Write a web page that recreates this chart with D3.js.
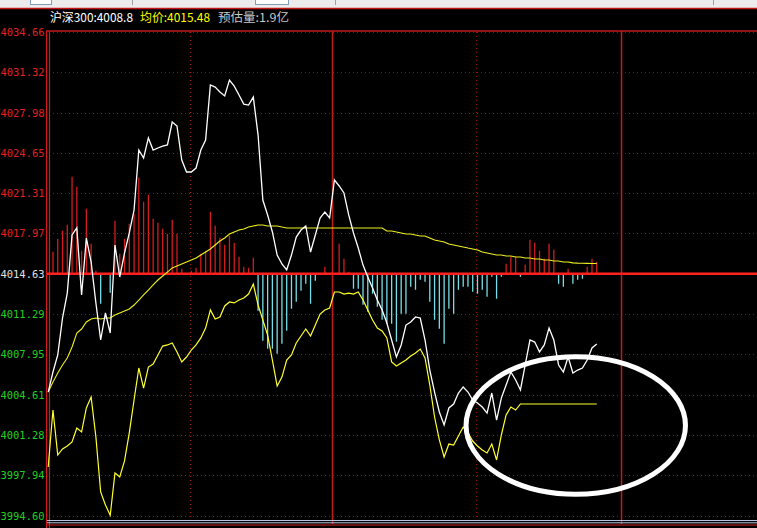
<!DOCTYPE html>
<html><head><meta charset="utf-8">
<script src="https://cdn.jsdelivr.net/npm/d3@7"></script>
<style>html,body{margin:0;padding:0;background:#000;overflow:hidden}svg{display:block}</style>
</head><body>
<svg id="c" width="757" height="528"></svg>
<script>
// ---- data ----
const priceTicks = [4034.66,4031.32,4027.98,4024.65,4021.31,4017.97,4014.63,4011.29,4007.95,4004.61,4001.28,3997.94,3994.60];
const tickLabels = ["4034.66","4031.32","4027.98","4024.65","4021.31","4017.97","4014.63","4011.29","4007.95","4004.61","4001.28","3997.94","3994.60"];
const basePrice = 4014.63;
// vertical grid positions (minute index; solid = hour lines)
const timeTicks = [{i:29.75, solid:false}, {i:59.5, solid:true}, {i:89.75, solid:false}, {i:120, solid:true}];
const timeTickLabels = [{i:0, t:"06/10 09:30"}, {i:59.5, t:"10:30"}, {i:120, t:"11:30"}];

// 沪深300 price, one value per minute
const price = [4004.83,4006.49,4007.90,4010.96,4013.03,4017.84,4018.42,4012.87,4017.59,4015.60,
4012.21,4009.14,4011.38,4009.72,4017.01,4014.36,4016.35,4018.01,4019.91,4024.88,
4024.22,4025.88,4024.88,4025.05,4025.21,4025.30,4027.20,4026.87,4024.05,4023.06,
4023.06,4023.39,4024.88,4025.71,4030.27,4030.10,4029.69,4029.36,4030.68,4030.18,
4029.44,4028.69,4028.61,4029.27,4026.12,4020.74,4019.50,4018.09,4016.18,4015.44,
4014.94,4016.18,4017.67,4018.25,4018.59,4016.43,4017.84,4019.25,4019.74,4019.25,
4022.40,4021.90,4021.32,4019.50,4018.01,4016.76,4015.35,4014.36,4013.45,4012.45,
4011.63,4010.55,4009.14,4007.73,4008.73,4010.38,4010.63,4011.05,4010.96,4009.14,
4006.65,4004.83,4003.18,4002.10,4003.51,4003.84,4004.75,4005.25,4004.83,4004.17,
4003.92,4003.59,4003.09,4004.75,4002.51,4004.33,4005.41,4006.49,4005.83,4005.00,
4007.07,4009.14,4008.97,4008.15,4008.73,4010.13,4009.14,4007.07,4006.49,4007.73,
4006.41,4006.65,4006.82,4007.48,4008.48,4008.80];

// 均价 average price
const avgPrice = [4004.83,4005.66,4006.41,4007.07,4007.65,4008.56,4009.72,4010.05,4010.63,4010.88,
4010.96,4010.88,4010.96,4010.96,4011.21,4011.38,4011.54,4011.71,4012.04,4012.45,
4012.87,4013.28,4013.70,4014.11,4014.44,4014.77,4015.11,4015.27,4015.44,4015.60,
4015.77,4015.93,4016.18,4016.43,4016.68,4017.01,4017.34,4017.59,4017.92,4018.09,
4018.25,4018.34,4018.50,4018.59,4018.67,4018.67,4018.59,4018.59,4018.59,4018.50,
4018.42,4018.42,4018.42,4018.42,4018.42,4018.42,4018.42,4018.42,4018.42,4018.42,
4018.42,4018.42,4018.42,4018.42,4018.42,4018.42,4018.42,4018.42,4018.42,4018.42,
4018.42,4018.17,4018.17,4018.09,4018.01,4017.92,4017.92,4017.84,4017.76,4017.76,
4017.59,4017.43,4017.34,4017.26,4017.09,4017.01,4016.93,4016.85,4016.76,4016.68,
4016.60,4016.43,4016.35,4016.27,4016.18,4016.18,4016.10,4016.10,4016.02,4016.02,
4015.93,4015.93,4015.85,4015.85,4015.77,4015.77,4015.69,4015.69,4015.60,4015.60,
4015.53,4015.51,4015.50,4015.49,4015.48,4015.48];

// leading line (yellow, jagged)
const lead = [3998.62,4003.34,3999.61,4000.11,4000.36,4000.69,4001.85,4001.52,4003.51,4004.42,
4001.10,3996.55,3995.47,3994.62,3998.12,3997.79,3999.12,4001.44,4004.17,4006.82,
4005.16,4006.90,4007.15,4007.90,4008.64,4008.73,4008.89,4008.15,4007.32,4007.73,
4008.31,4008.73,4009.31,4010.13,4011.63,4010.88,4011.05,4011.96,4012.29,4012.21,
4012.45,4012.62,4012.95,4013.78,4012.04,4010.80,4009.55,4007.48,4005.33,4006.07,
4007.48,4007.90,4008.89,4009.47,4010.05,4009.47,4010.38,4011.29,4011.63,4011.79,
4013.12,4013.12,4012.95,4013.03,4012.95,4013.12,4012.45,4011.63,4010.80,4010.13,
4009.89,4009.31,4007.32,4006.99,4007.23,4007.48,4007.81,4008.06,4008.39,4007.65,
4005.41,4002.76,4000.86,3999.45,4000.52,4000.44,4001.19,4001.93,4001.44,4000.77,
4000.36,4000.03,3999.78,4000.52,3999.20,4001.27,4002.93,4003.59,4003.34,4003.84,
4003.84,4003.84,4003.84,4003.84,4003.84,4003.84,4003.84,4003.84,4003.84,4003.84,
4003.84,4003.84,4003.84,4003.84,4003.84,4003.84];

// red / green strength bars
const strength = [0,22,35,43,49,97,87,23,65,30,
3,-30,0,-19,53,20,35,50,60,96,
72,79,55,51,45,40,54,40,5,0,
3,6,20,23,62,48,36,29,38,31,
17,7,6,16,-37,-67,-75,-75,-80,-70,
-57,-35,-28,-17,-10,-30,-7,0,7,0,
0,30,15,2,-15,-15,-31,-38,-20,-33,
-46,-50,-50,-68,-40,-40,-13,-16,-6,-8,
-28,-46,-55,-70,-35,-40,-16,-13,-13,-18,
-20,-16,-23,-3,-25,-3,10,17,17,-3,
9,34,31,23,15,30,24,-10,-13,5,
-10,-6,-5,7,15,12];

// hand-drawn ellipse annotation (data units)
const annot = {i:110.6, v:4002.06, di:23.0, dv:5.7};

// ---- drawing ----
const svg = d3.select("#c");
const W = 757, H = 528;
const x = d3.scaleLinear().domain([0, 240]).range([48.2, 48.2 + 240*4.77]);
const y = d3.scaleLinear().domain([3994.60, 4034.66]).range([515.5, 32]);
const y0 = y(basePrice);
const bar = d3.scaleLinear().domain([-100, 100]).range([y0 + 100, y0 - 100]);

svg.append("rect").attr("width", W).attr("height", H).attr("fill", "#000");

// top toolbar strip
svg.append("rect").attr("x",0).attr("y",0).attr("width",W).attr("height",8).attr("fill","#ececec");
svg.append("rect").attr("x",30.5).attr("y",-1).attr("width",21).attr("height",5.5).attr("fill","#fff").attr("stroke","#7f9db9");
svg.append("rect").attr("x",255.5).attr("y",-1).attr("width",33).attr("height",5.5).attr("fill","#fff").attr("stroke","#7f9db9");
[132, 335, 713].forEach(px => svg.append("line").attr("x1",px+.5).attr("x2",px+.5).attr("y1",0).attr("y2",5).attr("stroke","#a0a0a0"));
svg.append("line").attr("x1",0).attr("x2",W).attr("y1",8.5).attr("y2",8.5).attr("stroke","#c01818").attr("stroke-width",1.5);

// header text
const header = [
  {t:"沪深300:" + d3.format(".1f")(price[price.length-1]), x:50, w:83, c:"#ffffff"},
  {t:"均价:" + d3.format(".2f")(avgPrice[avgPrice.length-1]), x:140, w:70, c:"#ffff00"},
  {t:"预估量:1.9亿", x:218, w:71, c:"#c8c8c8"}
];
header.forEach(h => svg.append("text").attr("x",h.x).attr("y",21.5).attr("fill",h.c)
  .attr("font-family","'Noto Sans CJK SC','DejaVu Sans Mono',monospace").attr("font-size",12)
  .attr("textLength",h.w).attr("lengthAdjust","spacingAndGlyphs").text(h.t));

// grid
const g = svg.append("g");
priceTicks.forEach((v,k) => {
  if (k === 6) return;
  g.append("line").attr("x1",49).attr("x2",W).attr("y1",Math.round(y(v))+.5).attr("y2",Math.round(y(v))+.5)
    .attr("stroke","#9a1010").attr("stroke-dasharray","1,3");
});
timeTicks.forEach(t => {
  const px = Math.round(x(t.i)) + .5;
  if (t.solid) {
    g.append("line").attr("x1",px).attr("x2",px).attr("y1",31).attr("y2",524).attr("stroke","#c41a1a").attr("stroke-width",1.5);
  } else {
    g.append("line").attr("x1",px).attr("x2",px).attr("y1",32).attr("y2",520).attr("stroke","#9a1010").attr("stroke-dasharray","1,3");
  }
});
// plot top border
g.append("line").attr("x1",46).attr("x2",W).attr("y1",31).attr("y2",31).attr("stroke","#c41a1a").attr("stroke-width",1.5);
// left double border
[46.5, 49.5].forEach(px => g.append("line").attr("x1",px).attr("x2",px).attr("y1",31).attr("y2",528).attr("stroke","#d21a1a").attr("stroke-width",1.2));

// bottom separators
g.append("line").attr("x1",47).attr("x2",W).attr("y1",520.5).attr("y2",520.5).attr("stroke","#b4c4e0");
g.append("line").attr("x1",47).attr("x2",W).attr("y1",522.8).attr("y2",522.8).attr("stroke","#b4c4e0");
g.append("line").attr("x1",47).attr("x2",W).attr("y1",525).attr("y2",525).attr("stroke","#d21a1a").attr("stroke-width",1.2);

// y tick labels
svg.append("g").selectAll("text").data(tickLabels).join("text")
  .attr("x",44.5).attr("y",(d,k)=>y(priceTicks[k]) + 4)
  .attr("text-anchor","end").attr("font-family","'DejaVu Sans Mono',monospace").attr("font-size",11)
  .attr("textLength",44).attr("lengthAdjust","spacingAndGlyphs")
  .attr("fill",(d,k)=> k<6 ? "#e42020" : (k===6 ? "#e0e0e0" : "#20d020"))
  .text(d=>d);

// time labels (mostly cut off at bottom, as in the source screenshot)
svg.append("g").selectAll("text").data(timeTickLabels).join("text")
  .attr("x",d=> d.i===0 ? x(d.i) : x(d.i) - 3).attr("y",535.5)
  .attr("text-anchor",d=> d.i===0 ? "start" : "end")
  .attr("font-family","'DejaVu Sans Mono',monospace").attr("font-size",11).attr("fill","#e42020")
  .text(d=>d.t);

// strength bars
svg.append("g").selectAll("line").data(strength).join("line")
  .attr("x1",(d,k)=>x(k)).attr("x2",(d,k)=>x(k))
  .attr("y1",y0).attr("y2",d=>bar(d))
  .attr("stroke",d=> d>=0 ? "#d41c1c" : "#78dde6").attr("stroke-width",1.3)
  .attr("display",d=> d===0 ? "none" : null);

// zero line
svg.append("line").attr("x1",47).attr("x2",W).attr("y1",y0).attr("y2",y0).attr("stroke","#ff2020").attr("stroke-width",2.5);

const line = d3.line().x((d,k)=>x(k)).y(d=>y(d));
svg.append("path").datum(lead).attr("d",line).attr("fill","none").attr("stroke","#ffff30").attr("stroke-width",1.2);
svg.append("path").datum(avgPrice).attr("d",line).attr("fill","none").attr("stroke","#f0f020").attr("stroke-width",1.1);
svg.append("path").datum(price).attr("d",line).attr("fill","none").attr("stroke","#ffffff").attr("stroke-width",1.3);

// ellipse annotation
svg.append("ellipse")
  .attr("cx",x(annot.i)).attr("cy",y(annot.v))
  .attr("rx",x(annot.i+annot.di)-x(annot.i)).attr("ry",y(annot.v-annot.dv)-y(annot.v))
  .attr("fill","none").attr("stroke","#ffffff").attr("stroke-width",5);
</script>
</body></html>
